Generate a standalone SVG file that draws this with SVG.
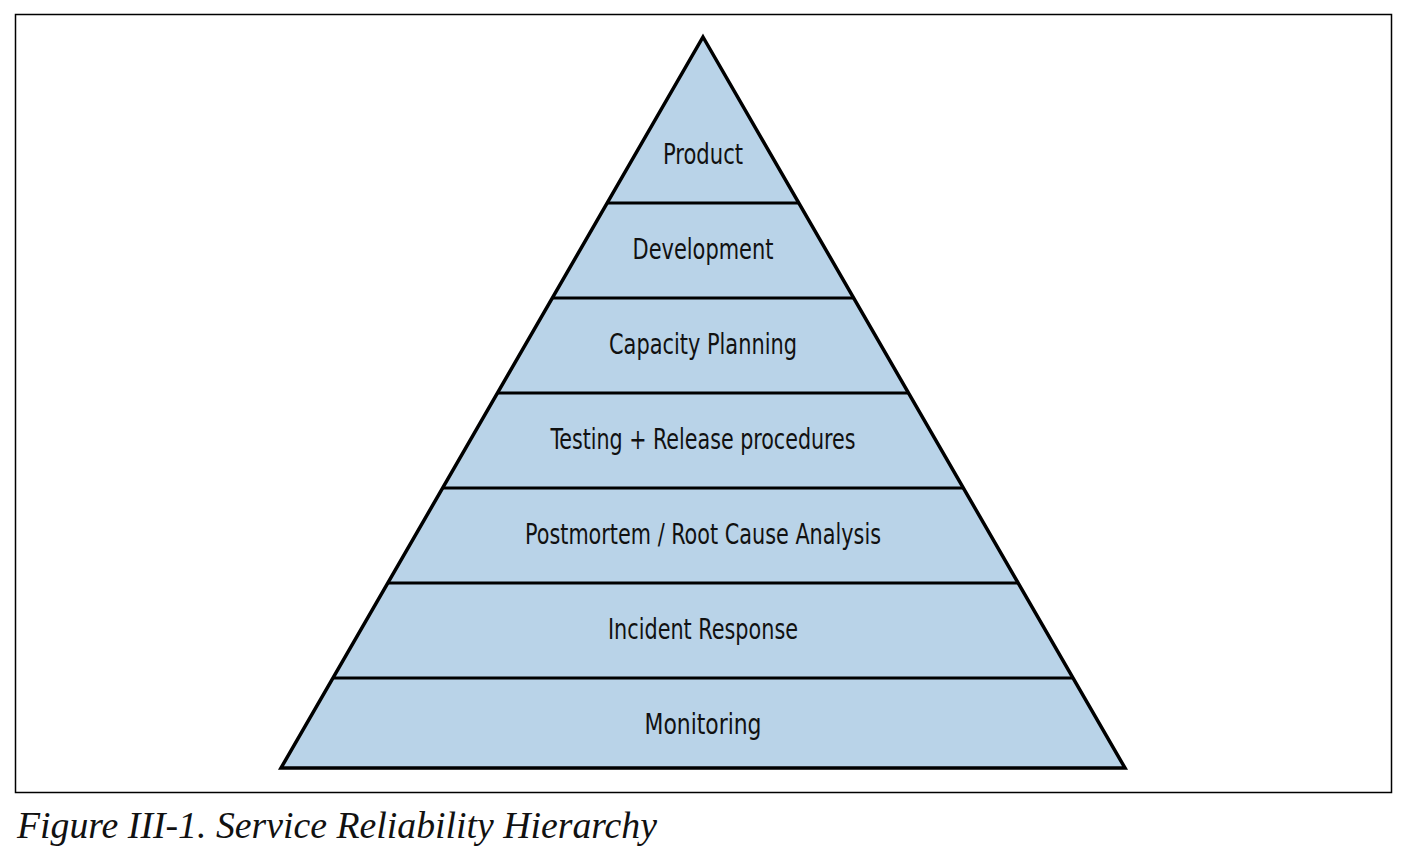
<svg xmlns="http://www.w3.org/2000/svg" width="1408" height="858" viewBox="0 0 1408 858">
<style>
.lvl{font-family:"Liberation Sans Narrow","DejaVu Sans Condensed","Liberation Sans",sans-serif;font-size:29px;fill:#111;text-anchor:middle}
.sep{stroke:#000;stroke-width:3;fill:none}
.cap{font-family:"Liberation Serif","Times New Roman",serif;font-style:italic;font-size:37px;fill:#111}
</style>
<rect x="0" y="0" width="1408" height="858" fill="#fff"/>
<rect x="15.5" y="14.5" width="1376" height="778" fill="none" stroke="#000" stroke-width="1.5"/>
<g id="pyramid">
<polygon points="703,37 1125,768 281,768" fill="#B9D3E8" stroke="#000" stroke-width="3.5" stroke-linejoin="miter"/>
</g>
<g id="connectors">
<line class="sep" x1="606.8" y1="203" x2="799.2" y2="203"/>
<line class="sep" x1="552" y1="298" x2="854" y2="298"/>
<line class="sep" x1="497" y1="393" x2="909" y2="393"/>
<line class="sep" x1="442" y1="488" x2="964" y2="488"/>
<line class="sep" x1="387" y1="583" x2="1019" y2="583"/>
<line class="sep" x1="332" y1="678" x2="1074" y2="678"/>
</g>
<g id="product"><text class="lvl" x="703" y="164" textLength="80" lengthAdjust="spacingAndGlyphs">Product</text></g>
<g id="development"><text class="lvl" x="703" y="259" textLength="141" lengthAdjust="spacingAndGlyphs">Development</text></g>
<g id="capacity"><text class="lvl" x="703" y="354" textLength="188" lengthAdjust="spacingAndGlyphs">Capacity Planning</text></g>
<g id="testing"><text class="lvl" x="703" y="449" textLength="305" lengthAdjust="spacingAndGlyphs">Testing + Release procedures</text></g>
<g id="postmortem"><text class="lvl" x="703" y="544" textLength="356" lengthAdjust="spacingAndGlyphs">Postmortem / Root Cause Analysis</text></g>
<g id="incident"><text class="lvl" x="703" y="639" textLength="190" lengthAdjust="spacingAndGlyphs">Incident Response</text></g>
<g id="monitoring"><text class="lvl" x="703" y="734" textLength="117" lengthAdjust="spacingAndGlyphs">Monitoring</text></g>
<text class="cap" x="17" y="838" textLength="640" lengthAdjust="spacingAndGlyphs">Figure III-1. Service Reliability Hierarchy</text>
</svg>
